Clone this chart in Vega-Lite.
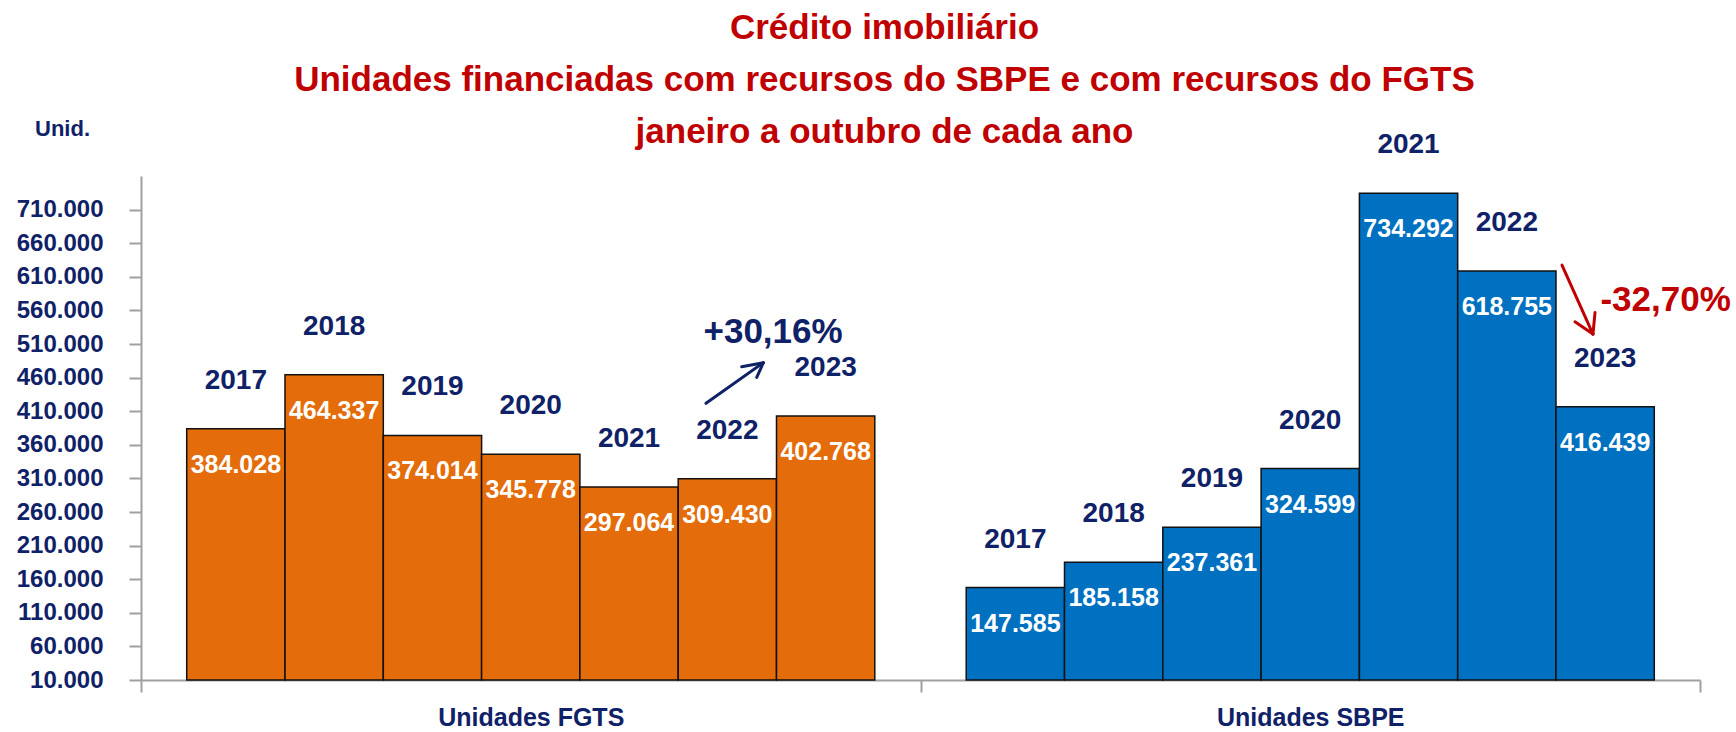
{
  "$schema": "https://vega.github.io/schema/vega-lite/v6.json",
  "width": 1559,
  "height": 504,
  "autosize": {"type": "none"},
  "padding": {"left": 141, "top": 176, "right": 36, "bottom": 52},
  "background": "white",
  "title": {
    "text": ["Crédito imobiliário", "Unidades financiadas com recursos do SBPE e com recursos do FGTS", "janeiro a outubro de cada ano"],
    "font": "Liberation Sans",
    "fontSize": 35,
    "fontWeight": "bold",
    "color": "#C00000",
    "lineHeight": 52,
    "anchor": "middle",
    "frame": "group",
    "dx": -36,
    "dy": 33,
    "offset": 0
  },
  "config": {
    "view": {"stroke": null},
    "locale": {"number": {"decimal": ",", "thousands": ".", "grouping": [3], "currency": ["R$ ", ""]}}
  },
  "datasets": {
    "bars": [
      {"categoria": "Unidades FGTS", "ano": "2017", "valor": 384028},
      {"categoria": "Unidades FGTS", "ano": "2018", "valor": 464337},
      {"categoria": "Unidades FGTS", "ano": "2019", "valor": 374014},
      {"categoria": "Unidades FGTS", "ano": "2020", "valor": 345778},
      {"categoria": "Unidades FGTS", "ano": "2021", "valor": 297064},
      {"categoria": "Unidades FGTS", "ano": "2022", "valor": 309430},
      {"categoria": "Unidades FGTS", "ano": "2023", "valor": 402768},
      {"categoria": "Unidades SBPE", "ano": "2017", "valor": 147585},
      {"categoria": "Unidades SBPE", "ano": "2018", "valor": 185158},
      {"categoria": "Unidades SBPE", "ano": "2019", "valor": 237361},
      {"categoria": "Unidades SBPE", "ano": "2020", "valor": 324599},
      {"categoria": "Unidades SBPE", "ano": "2021", "valor": 734292},
      {"categoria": "Unidades SBPE", "ano": "2022", "valor": 618755},
      {"categoria": "Unidades SBPE", "ano": "2023", "valor": 416439}
    ],
    "notes": [
      {"tipo": "alta", "rotulo": "+30,16%", "sx": 6.43, "v": 528500},
      {"tipo": "queda", "rotulo": "-32,70%", "sx": 15.51, "v": 576100}
    ],
    "arrows": [
      {"tipo": "alta", "x1": 5.748, "y1": 421700, "x2": 6.331, "y2": 482100},
      {"tipo": "alta", "x1": 6.111, "y1": 476100, "x2": 6.331, "y2": 482100},
      {"tipo": "alta", "x1": 6.264, "y1": 460300, "x2": 6.331, "y2": 482100},
      {"tipo": "queda", "x1": 14.456, "y1": 627400, "x2": 14.771, "y2": 524800},
      {"tipo": "queda", "x1": 14.792, "y1": 556800, "x2": 14.771, "y2": 524800},
      {"tipo": "queda", "x1": 14.588, "y1": 543100, "x2": 14.771, "y2": 524800}
    ]
  },
  "layer": [
    {
      "data": {"name": "bars"},
      "encoding": {
        "x": {
          "field": "categoria", "type": "nominal", "sort": null,
          "scale": {"paddingInner": 0, "paddingOuter": 0},
          "axis": {
            "title": null, "labelAngle": 0,
            "labelFont": "Liberation Sans", "labelFontSize": 25, "labelFontWeight": "bold", "labelColor": "#0F2167",
            "labelBaseline": "middle", "labelPadding": 25, "labelLimit": 0,
            "tickBand": "extent", "tickSize": 12, "tickColor": "#A0A0A0", "tickWidth": 2,
            "domainColor": "#A0A0A0", "domainWidth": 2, "grid": false
          }
        },
        "xOffset": {"field": "ano", "type": "nominal", "sort": null, "scale": {"paddingInner": 0, "paddingOuter": 0.465}},
        "y": {
          "field": "valor", "type": "quantitative",
          "scale": {"domain": [10000, 760000], "nice": false, "zero": false},
          "axis": {
            "title": "Unid.", "titleAngle": 0, "titleX": -79, "titleY": -48, "titleAlign": "center", "titleBaseline": "middle",
            "titleFont": "Liberation Sans", "titleFontSize": 22, "titleFontWeight": "bold", "titleColor": "#0F2167",
            "values": [10000, 60000, 110000, 160000, 210000, 260000, 310000, 360000, 410000, 460000, 510000, 560000, 610000, 660000, 710000],
            "format": ",d",
            "labelFont": "Liberation Sans", "labelFontSize": 24, "labelFontWeight": "bold", "labelColor": "#0F2167",
            "labelPadding": 26, "labelOverlap": false, "labelBound": false,
            "tickSize": 12, "tickColor": "#A0A0A0", "tickWidth": 2,
            "domainColor": "#A0A0A0", "domainWidth": 2, "grid": false
          }
        }
      },
      "layer": [
        {
          "mark": {"type": "bar", "stroke": "#111111", "strokeWidth": 1.5},
          "encoding": {
            "y2": {"datum": 10000},
            "color": {"field": "categoria", "type": "nominal", "scale": {"domain": ["Unidades FGTS", "Unidades SBPE"], "range": ["#E46C0A", "#0070C0"]}, "legend": null}
          }
        },
        {
          "mark": {"type": "text", "dy": -48, "baseline": "middle", "align": "center", "font": "Liberation Sans", "fontSize": 28, "fontWeight": "bold", "color": "#0F2167"},
          "encoding": {"text": {"field": "ano", "type": "nominal"}}
        },
        {
          "mark": {"type": "text", "dy": 36, "baseline": "middle", "align": "center", "font": "Liberation Sans", "fontSize": 25, "fontWeight": "bold", "color": "white"},
          "encoding": {"text": {"field": "valor", "type": "quantitative", "format": ",d"}}
        }
      ]
    },
    {
      "layer": [
        {
          "data": {"name": "arrows"},
          "mark": {"type": "rule", "strokeWidth": 3, "strokeCap": "round"},
          "encoding": {
            "x": {"field": "x1", "type": "quantitative", "scale": {"domain": [0, 15.86], "nice": false, "zero": false}, "axis": null},
            "x2": {"field": "x2"},
            "y": {"field": "y1", "type": "quantitative", "scale": {"domain": [10000, 760000], "nice": false, "zero": false}, "axis": null},
            "y2": {"field": "y2"},
            "color": {"field": "tipo", "type": "nominal", "scale": {"domain": ["alta", "queda"], "range": ["#0F2167", "#C00000"]}, "legend": null}
          }
        },
        {
          "data": {"name": "notes"},
          "mark": {"type": "text", "baseline": "middle", "align": "center", "font": "Liberation Sans", "fontSize": 35, "fontWeight": "bold"},
          "encoding": {
            "x": {"field": "sx", "type": "quantitative", "scale": {"domain": [0, 15.86], "nice": false, "zero": false}, "axis": null},
            "y": {"field": "v", "type": "quantitative", "scale": {"domain": [10000, 760000], "nice": false, "zero": false}, "axis": null},
            "text": {"field": "rotulo", "type": "nominal"},
            "color": {"field": "tipo", "type": "nominal", "scale": {"domain": ["alta", "queda"], "range": ["#0F2167", "#C00000"]}, "legend": null}
          }
        }
      ]
    }
  ],
  "resolve": {"scale": {"x": "independent", "y": "independent", "color": "independent"}}
}
